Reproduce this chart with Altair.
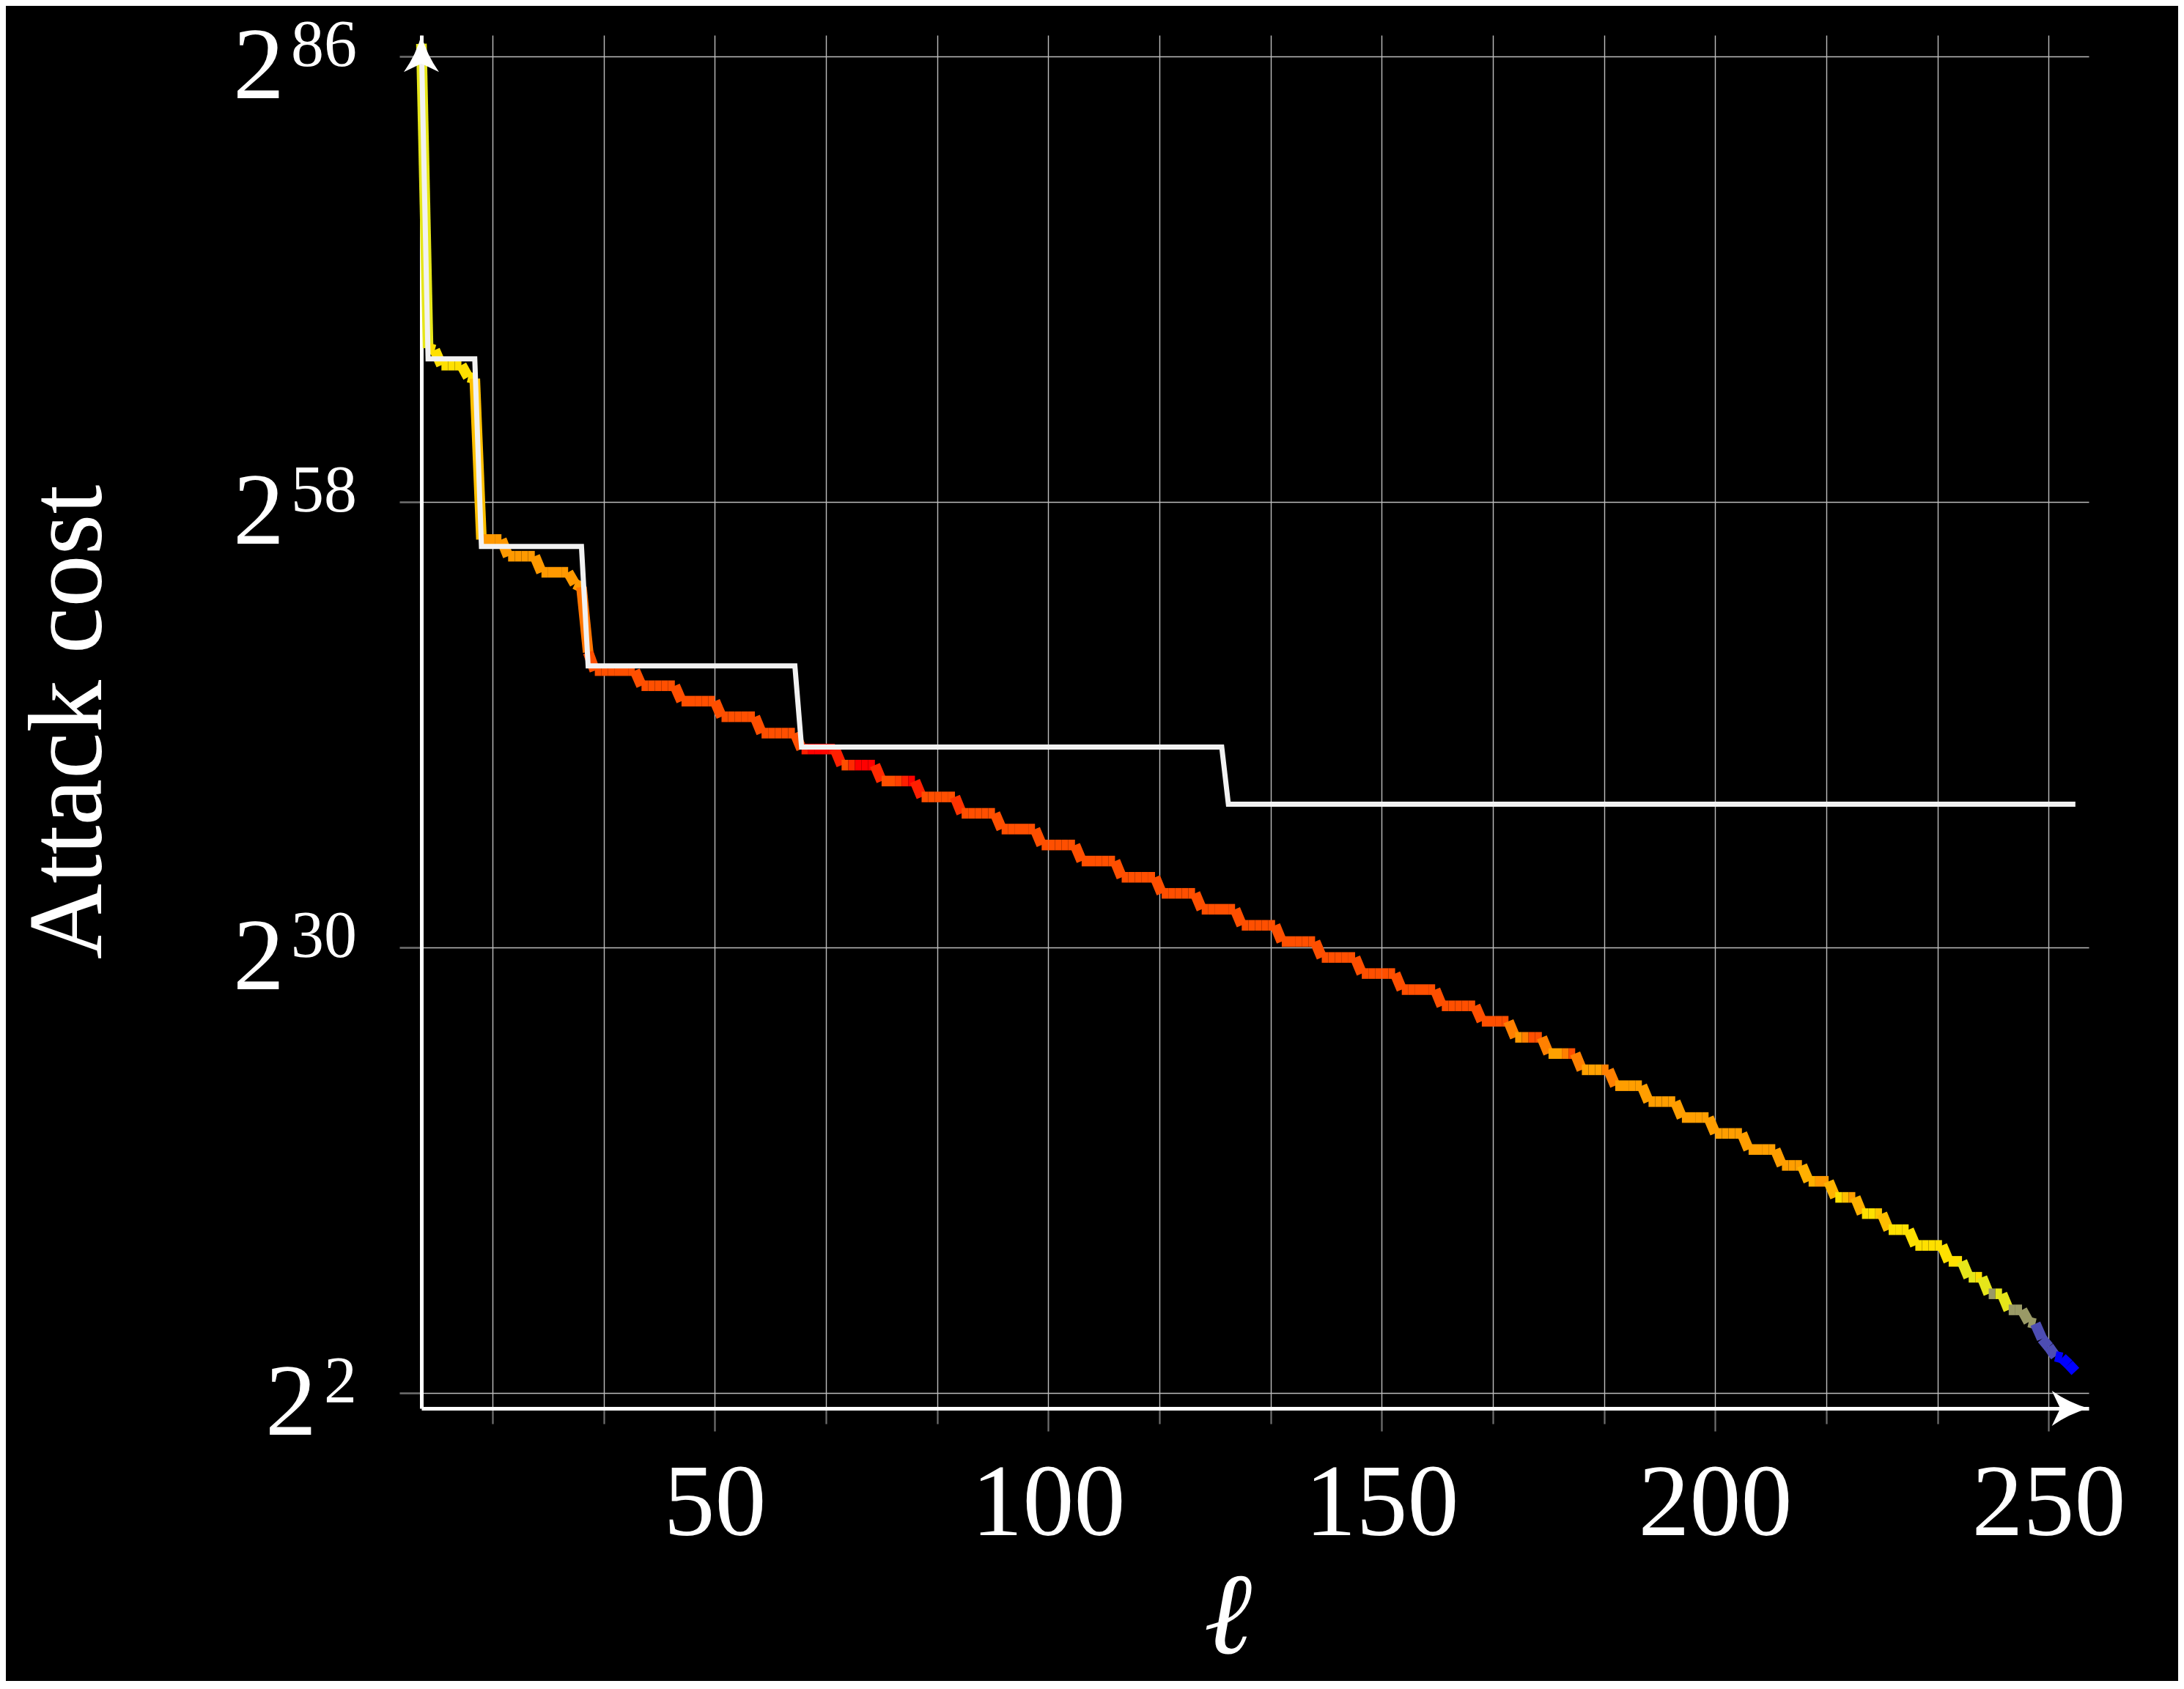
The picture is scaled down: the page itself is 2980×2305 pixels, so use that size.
import altair as alt
import pandas as pd

# ---------------- values ----------------
# x axis: ell (integer), y axis: log2 of the attack cost
ell = list(range(6, 255))

attack_cost_log2 = [
    # 6 .. 14
    86.8, 67.67, 67.55, 66.6, 66.6, 66.6, 66.6, 65.85, 65.75,
    # 15 .. 18
    55.64, 55.64, 55.64, 55.64,
    # 19 .. 23
    54.59, 54.59, 54.59, 54.59, 54.59,
    # 24 .. 28
    53.58, 53.58, 53.58, 53.58, 53.58,
    # 29 .. 31
    52.85, 52.65, 48.55,
    # 32 .. 38
    47.4, 47.4, 47.4, 47.4, 47.4, 47.4, 47.4,
    # 39 .. 44
    46.45, 46.45, 46.45, 46.45, 46.45, 46.45,
    # 45 .. 50
    45.48, 45.48, 45.48, 45.48, 45.48, 45.48,
    # 51 .. 56
    44.5, 44.5, 44.5, 44.5, 44.5, 44.5,
    # 57 .. 62
    43.47, 43.47, 43.47, 43.47, 43.47, 43.47,
    # 63 .. 68
    42.47, 42.47, 42.47, 42.47, 42.47, 42.47,
    # 69 .. 74
    41.46, 41.46, 41.46, 41.46, 41.46, 41.46,
    # 75 .. 80
    40.46, 40.46, 40.46, 40.46, 40.46, 40.46,
    # 81 .. 86
    39.46, 39.46, 39.46, 39.46, 39.46, 39.46,
    # 87 .. 92
    38.43, 38.43, 38.43, 38.43, 38.43, 38.43,
    # 93 .. 98
    37.44, 37.44, 37.44, 37.44, 37.44, 37.44,
    # 99 .. 104
    36.44, 36.44, 36.44, 36.44, 36.44, 36.44,
    # 105 .. 110
    35.43, 35.43, 35.43, 35.43, 35.43, 35.43,
    # 111 .. 116
    34.41, 34.41, 34.41, 34.41, 34.41, 34.41,
    # 117 .. 122
    33.4, 33.4, 33.4, 33.4, 33.4, 33.4,
    # 123 .. 128
    32.4, 32.4, 32.4, 32.4, 32.4, 32.4,
    # 129 .. 134
    31.39, 31.39, 31.39, 31.39, 31.39, 31.39,
    # 135 .. 140
    30.37, 30.37, 30.37, 30.37, 30.37, 30.37,
    # 141 .. 146
    29.37, 29.37, 29.37, 29.37, 29.37, 29.37,
    # 147 .. 152
    28.36, 28.36, 28.36, 28.36, 28.36, 28.36,
    # 153 .. 158
    27.35, 27.35, 27.35, 27.35, 27.35, 27.35,
    # 159 .. 164
    26.33, 26.33, 26.33, 26.33, 26.33, 26.33,
    # 165 .. 169
    25.36, 25.36, 25.36, 25.36, 25.36,
    # 170 .. 174
    24.35, 24.35, 24.35, 24.35, 24.35,
    # 175 .. 179
    23.33, 23.33, 23.33, 23.33, 23.33,
    # 180 .. 184
    22.31, 22.31, 22.31, 22.31, 22.31,
    # 185 .. 189
    21.31, 21.31, 21.31, 21.31, 21.31,
    # 190 .. 194
    20.31, 20.31, 20.31, 20.31, 20.31,
    # 195 .. 199
    19.31, 19.31, 19.31, 19.31, 19.31,
    # 200 .. 204
    18.31, 18.31, 18.31, 18.31, 18.31,
    # 205 .. 209
    17.3, 17.3, 17.3, 17.3, 17.3,
    # 210 .. 213
    16.3, 16.3, 16.3, 16.3,
    # 214 .. 217
    15.3, 15.3, 15.3, 15.3,
    # 218 .. 221
    14.29, 14.29, 14.29, 14.29,
    # 222 .. 225
    13.27, 13.27, 13.27, 13.27,
    # 226 .. 229
    12.26, 12.26, 12.26, 12.26,
    # 230 .. 234
    11.27, 11.27, 11.27, 11.27, 11.27,
    # 235 .. 237
    10.27, 10.27, 10.27,
    # 238 .. 240
    9.27, 9.27, 9.27,
    # 241 .. 243
    8.23, 8.23, 8.23,
    # 244 .. 246
    7.22, 7.22, 7.22,
    # 247 .. 254
    6.45, 6.35, 5.4, 4.9, 4.3, 4.2, 3.8, 3.35,
]

# colour level of each segment (ell -> ell+1), 0 = blue, 0.5 = yellow, 1 = red
segment_level = [
    # 6 .. 14
    0.45, 0.56, 0.56, 0.56, 0.56, 0.56, 0.56, 0.56, 0.625,
    # 15 .. 29
    0.70, 0.70, 0.70, 0.70, 0.70, 0.70, 0.70, 0.70, 0.70, 0.70,
    0.70, 0.70, 0.70, 0.70, 0.70,
    # 30
    0.77,
    # 31 .. 62
    0.845, 0.845, 0.845, 0.845, 0.845, 0.845, 0.845, 0.845,
    0.845, 0.845, 0.845, 0.845, 0.845, 0.845, 0.845, 0.845,
    0.845, 0.845, 0.845, 0.845, 0.845, 0.845, 0.845, 0.845,
    0.845, 0.845, 0.845, 0.845, 0.845, 0.845, 0.845, 0.845,
    # 63 .. 68
    0.94, 1.0, 1.0, 0.99, 0.97, 0.94,
    # 69 .. 74
    0.845, 0.92, 1.0, 1.0, 1.0, 0.92,
    # 75 .. 80
    0.845, 0.845, 0.875, 0.94, 1.0, 0.94,
    # 81 .. 86
    0.845, 0.845, 0.845, 0.845, 0.845, 0.90,
    # 87 .. 168
    0.845, 0.845, 0.845, 0.845, 0.845, 0.845, 0.845, 0.845, 0.845, 0.845,
    0.845, 0.845, 0.845, 0.845, 0.845, 0.845, 0.845, 0.845, 0.845, 0.845,
    0.845, 0.845, 0.845, 0.845, 0.845, 0.845, 0.845, 0.845, 0.845, 0.845,
    0.845, 0.845, 0.845, 0.845, 0.845, 0.845, 0.845, 0.845, 0.845, 0.845,
    0.845, 0.845, 0.845, 0.845, 0.845, 0.845, 0.845, 0.845, 0.845, 0.845,
    0.845, 0.845, 0.845, 0.845, 0.845, 0.845, 0.845, 0.845, 0.845, 0.845,
    0.845, 0.845, 0.845, 0.845, 0.845, 0.845, 0.845, 0.845, 0.845, 0.845,
    0.845, 0.845, 0.845, 0.845, 0.845, 0.845, 0.845, 0.845, 0.845, 0.845,
    0.845, 0.845,
    # 169
    0.75,
    # 170 .. 174
    0.70, 0.75, 0.845, 0.845, 0.75,
    # 175 .. 179
    0.685, 0.685, 0.75, 0.845, 0.75,
    # 180 .. 184
    0.685, 0.685, 0.685, 0.75, 0.75,
    # 185 .. 212
    0.69, 0.69, 0.69, 0.69, 0.69, 0.69, 0.69, 0.69, 0.69, 0.69,
    0.69, 0.69, 0.69, 0.69, 0.69, 0.69, 0.69, 0.69, 0.69, 0.69,
    0.69, 0.69, 0.69, 0.69, 0.69, 0.69, 0.69, 0.69,
    # 213 .. 217
    0.655, 0.655, 0.70, 0.70, 0.65,
    # 218 .. 221
    0.56, 0.625, 0.69, 0.655,
    # 222 .. 225
    0.56, 0.56, 0.61, 0.63,
    # 226 .. 236
    0.56, 0.56, 0.56, 0.56, 0.56, 0.56, 0.56, 0.56, 0.56, 0.56, 0.56,
    # 237
    0.45,
    # 238 .. 243
    0.45, 0.56, 0.45, 0.30, 0.45, 0.45,
    # 244 .. 247
    0.30, 0.30, 0.30, 0.30,
    # 248 .. 250
    0.15, 0.15, 0.15,
    # 251 .. 253
    0.0, 0.0, 0.0,
]

# white step curve (upper bound), as corner points
bound_ell = [6, 7, 14, 15, 30, 31, 62, 63, 126, 127, 254]
bound_log2 = [86.8, 67.0, 67.0, 55.2, 55.2, 47.7, 47.7, 42.6, 42.6, 39.0, 39.0]

# axes
x_tick_values = [50 / 3, 100 / 3, 50, 200 / 3, 250 / 3, 100, 350 / 3, 400 / 3, 150,
                 500 / 3, 550 / 3, 200, 650 / 3, 700 / 3, 250]
x_label_values = [50, 100, 150, 200, 250]
y_tick_exponents = [2, 30, 58, 86]
y_tick_sup = ["2", "30", "58", "86"]

X_MIN, X_MAX = 6, 256
Y_MIN, Y_MAX = 1.03, 87.34

# ---------------- layout ----------------
W, H = 2275, 1874
FONT = "Liberation Serif"
GRID = "#bdbdbd"
TICK = "#707070"

n = min(len(ell) - 1, len(segment_level), len(attack_cost_log2) - 1)
segs = pd.DataFrame({
    "l": ell[:n], "l2": ell[1:n + 1],
    "c": attack_cost_log2[:n], "c2": attack_cost_log2[1:n + 1],
    "level": segment_level[:n],
})
bound = pd.DataFrame({"l": bound_ell, "c": bound_log2})
ylab = pd.DataFrame({"e": y_tick_exponents, "sup": y_tick_sup})
xlab = pd.DataFrame({"l": x_label_values})

xs = alt.Scale(domain=[X_MIN, X_MAX], nice=False, zero=False)
ys = alt.Scale(domain=[Y_MIN, Y_MAX], nice=False, zero=False)

x_axis = alt.Axis(
    values=x_tick_values, labels=False, grid=True, gridColor=GRID, gridWidth=1.4,
    domainColor="white", domainWidth=5, tickColor=TICK, tickWidth=2.2,
    tickSize={"condition": {"test": "abs(datum.value - 50*round(datum.value/50)) < 0.01",
                            "value": 31}, "value": 21},
    title="ℓ", titleFont=FONT, titleFontSize=158, titleFontStyle="italic",
    titleFontWeight="normal", titleColor="white", titleX=1100, titleY=333,
    titleBaseline="alphabetic", titleAlign="center",
)
y_axis = alt.Axis(
    values=y_tick_exponents, labels=False, grid=True, gridColor=GRID, gridWidth=1.4,
    domainColor="white", domainWidth=5, tickColor=TICK, tickWidth=2.5, tickSize=30,
    title="Attack cost", titleFont=FONT, titleFontSize=143, titleFontWeight="normal",
    titleColor="white", titleX=-438, titleY=H / 2, titleAngle=270,
    titleBaseline="alphabetic", titleAlign="center",
)


def X(field):
    return alt.X(field, scale=xs, axis=x_axis)


def Y(field):
    return alt.Y(field, scale=ys, axis=y_axis)


colour = alt.Color(
    "level:Q", legend=None,
    scale=alt.Scale(domain=[0, 0.5, 1], range=["#0000ff", "#ffff00", "#ff0000"],
                    interpolate="rgb"),
)

curve = alt.Chart(segs).mark_rule(strokeWidth=14.5, strokeCap="butt").encode(
    x=X("l:Q"), x2="l2:Q", y=Y("c:Q"), y2="c2:Q", color=colour,
)

bound_line = alt.Chart(bound).mark_line(
    color="#f2f2f2", strokeWidth=7, strokeJoin="miter", strokeCap="butt"
).encode(x=X("l:Q"), y=Y("c:Q"))

txt = dict(font=FONT, color="white", baseline="alphabetic")
base1 = alt.Chart(ylab).transform_filter("length(datum.sup) == 1").mark_text(
    text="2", align="right", dy=57, fontSize=140, **txt
).encode(x=alt.value(-143), y=Y("e:Q"))
base2 = alt.Chart(ylab).transform_filter("length(datum.sup) == 2").mark_text(
    text="2", align="right", dy=57, fontSize=140, **txt
).encode(x=alt.value(-187), y=Y("e:Q"))
sup = alt.Chart(ylab).mark_text(align="right", dy=13, fontSize=90, **txt).encode(
    text="sup:N", x=alt.value(-88), y=Y("e:Q")
)
xlabels = alt.Chart(xlab).mark_text(align="center", fontSize=140, **txt).encode(
    text=alt.Text("l:Q", format="d"), x=X("l:Q"), y=alt.value(H + 173),
)

UP = "M0,0 Q0.3,1.1 1,2.1 L0,1.62 L-1,2.1 Q-0.3,1.1 0,0 Z"
RIGHT = "M0,0 Q-1.1,0.3 -2.1,1 L-1.62,0 L-2.1,-1 Q-1.1,-0.3 0,0 Z"
arrow_up = alt.Chart(pd.DataFrame({"l": [X_MIN], "c": [Y_MAX]})).mark_point(
    shape=UP, size=2300, filled=True, color="white", opacity=1, strokeWidth=0
).encode(x=X("l:Q"), y=Y("c:Q"))
arrow_right = alt.Chart(pd.DataFrame({"l": [X_MAX], "c": [Y_MIN]})).mark_point(
    shape=RIGHT, size=2300, filled=True, color="white", opacity=1, strokeWidth=0
).encode(x=X("l:Q"), y=Y("c:Q"))

chart = alt.layer(
    curve, bound_line, arrow_up, arrow_right, base1, base2, sup, xlabels
).properties(
    width=W, height=H,
    autosize=alt.AutoSizeParams(type="none"),
    padding={"left": 567, "top": 40, "right": 122, "bottom": 372},
).configure(
    background="black", font=FONT
).configure_view(stroke=None)

chart.save("out.html", embed_options={"renderer": "svg", "actions": False})
